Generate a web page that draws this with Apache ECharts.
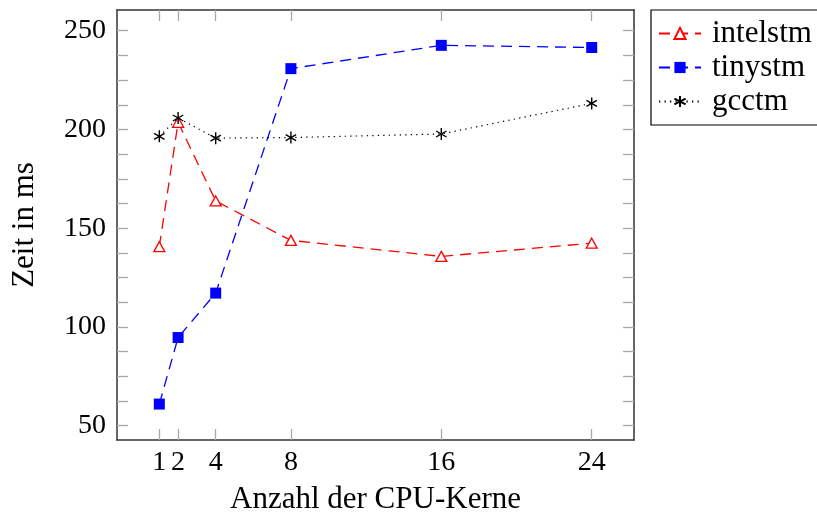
<!DOCTYPE html>
<html><head><meta charset="utf-8">
<script src="https://cdn.jsdelivr.net/npm/echarts@6/dist/echarts.min.js"></script>
<style>html,body{margin:0;padding:0;background:#fff}#c{width:817px;height:516px}</style>
</head><body><div id="c"></div>
<script>
const cores = [1, 2, 4, 8, 16, 24];
const intelstm = [140.6, 203.6, 163.8, 143.8, 135.7, 142.4];
const tinystm = [60.9, 94.6, 117.1, 230.8, 242.6, 241.5];
const gcctm = [196.5, 205.8, 195.6, 195.9, 197.7, 213.2];
const xTicks = [1, 2, 4, 8, 16, 24];
const yLabels = [50, 100, 150, 200, 250];
const yTicks = [50, 62.5, 75, 87.5, 100, 112.5, 125, 137.5, 150, 162.5, 175, 187.5, 200, 212.5, 225, 237.5, 250];
const xTitle = 'Anzahl der CPU-Kerne';
const yTitle = 'Zeit in ms';
const names = ['intelstm', 'tinystm', 'gcctm'];

const FONT = 'Liberation Serif';
const FS_NUM = 28;
const FS_TXT = 31;
const frameColor = '#333';
const tickColor = '#a8a8a8';

const pairs = arr => cores.map((c, i) => [c, arr[i]]);
const asterisk = 'path://M50,0L50,100M6.7,25L93.3,75M6.7,75L93.3,25';

function xAxisDef(pos, show) {
  return {
    type: 'value', position: pos, min: -1.25, max: 26.25,
    splitLine: { show: false },
    axisLine: { show: true, onZero: false, lineStyle: { color: frameColor, width: 1.5 } },
    axisTick: { show: true, inside: true, length: 11, customValues: xTicks, lineStyle: { color: tickColor, width: 1.3 } },
    axisLabel: { show: show, customValues: xTicks, margin: 9, fontFamily: FONT, fontSize: FS_NUM, color: '#000' },
    name: show ? xTitle : '', nameLocation: 'middle', nameGap: 44,
    nameTextStyle: { fontFamily: FONT, fontSize: FS_TXT, color: '#000' }
  };
}
function yAxisDef(pos, show) {
  return {
    type: 'value', position: pos, min: 42.7, max: 260.5,
    splitLine: { show: false },
    axisLine: { show: true, onZero: false, lineStyle: { color: frameColor, width: 1.5 } },
    axisTick: { show: true, inside: true, length: 11, customValues: yTicks, lineStyle: { color: tickColor, width: 1.3 } },
    axisLabel: { show: show, customValues: yLabels, margin: 11, fontFamily: FONT, fontSize: FS_NUM, color: '#000' },
    name: show ? yTitle : '', nameLocation: 'middle', nameGap: 77, nameRotate: 90,
    nameTextStyle: { fontFamily: FONT, fontSize: FS_TXT, color: '#000' }
  };
}

const chart = echarts.init(document.getElementById('c'), null, { renderer: 'canvas' });
chart.setOption({
  animation: false,
  backgroundColor: '#fff',
  grid: { left: 117, right: 183, top: 10, bottom: 76, containLabel: false, outerBoundsMode: 'none' },
  xAxis: [xAxisDef('bottom', true), xAxisDef('top', false)],
  yAxis: [yAxisDef('left', true), yAxisDef('right', false)],
  legend: {
    orient: 'vertical', left: 651, top: 10,
    borderColor: '#000', borderWidth: 1.2, padding: [8, 30, 8, 7],
    itemWidth: 42, itemHeight: 14, itemGap: 3,
    textStyle: { fontFamily: FONT, fontSize: FS_TXT, color: '#000', padding: [0, 0, 0, 6] },
    data: names
  },
  series: [
    {
      name: names[0], type: 'line', data: pairs(intelstm),
      symbol: 'triangle', symbolSize: [11, 10],
      itemStyle: { color: '#fff', borderColor: '#ff0000', borderWidth: 1.3 },
      lineStyle: { color: '#ff0000', width: 1.3, type: [11, 7] }
    },
    {
      name: names[1], type: 'line', data: pairs(tinystm),
      symbol: 'rect', symbolSize: 11,
      itemStyle: { color: '#0000ff', borderWidth: 0 },
      lineStyle: { color: '#0000ff', width: 1.3, type: [11, 7] }
    },
    {
      name: names[2], type: 'line', data: pairs(gcctm),
      symbol: asterisk, symbolSize: 12, symbolKeepAspect: true,
      itemStyle: { color: 'none', borderColor: '#000', borderWidth: 1.4 },
      lineStyle: { color: '#000', width: 1.2, type: [1.3, 4.2] }
    }
  ]
});
</script></body></html>
